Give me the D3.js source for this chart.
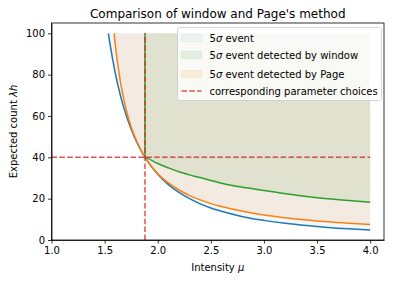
<!DOCTYPE html>
<html>
<head>
<meta charset="utf-8">
<script src="https://cdn.jsdelivr.net/npm/d3@7/dist/d3.min.js"></script>
<style>
	body { margin: 0; background: #fff; }
	svg { display: block; font-family: "DejaVu Sans", sans-serif; }
	.axis path, .axis line { stroke: #000; stroke-width: 0.8; }
	.axis text { font-size: 10px; fill: #000; font-family: "DejaVu Sans", sans-serif; }
</style>
</head>
<body>
<svg class="chart" width="393" height="282"></svg>
<script>
(function() {

	//DATA
	var blueMu = [1.535, 1.55, 1.6, 1.65, 1.7, 1.75, 1.8, 1.88, 1.9, 2.0, 2.1, 2.2, 2.3, 2.4, 2.5, 2.6, 2.8, 3.0, 3.2, 3.4, 3.6, 3.8, 4.0]
	var blueCount = [100, 95.1, 80.8, 69.7, 60.8, 53.6, 47.6, 40.0, 38.4, 31.8, 26.8, 23.0, 20.0, 17.5, 15.5, 13.9, 11.3, 9.5, 8.1, 7.0, 6.1, 5.4, 4.8]

	var pageMu = [1.589, 1.6, 1.65, 1.7, 1.75, 1.8, 1.88, 1.9, 2.0, 2.1, 2.2, 2.3, 2.4, 2.5, 2.6, 2.8, 3.0, 3.2, 3.4, 3.6, 3.8, 4.0]
	var pageCount = [100, 94.5, 76.1, 63.7, 54.7, 48.0, 40.0, 38.5, 32.1, 27.6, 24.2, 21.5, 19.4, 17.6, 16.2, 13.9, 12.1, 10.8, 9.7, 8.8, 8.1, 7.5]

	var windowMu = [1.88, 1.9, 2.0, 2.1, 2.2, 2.3, 2.4, 2.5, 2.6, 2.8, 3.0, 3.2, 3.4, 3.6, 3.8, 4.0]
	var windowCount = [40.0, 39.6, 37.0, 34.9, 33.0, 31.5, 30.2, 28.8, 27.5, 25.5, 24.0, 22.4, 21.1, 20.0, 19.1, 18.3]

	var choiceMu = 1.88
	var choiceCount = 40
	var countMax = 100
	var muRange = [1.0, 4.0]

	var xTicks = [1.0, 1.5, 2.0, 2.5, 3.0, 3.5, 4.0]
	var yTicks = [0, 20, 40, 60, 80, 100]

	var legendLabels = ['5σ event', '5σ event detected by window', '5σ event detected by Page', 'corresponding parameter choices']

	//VARS
	var colors = { blue: '#1f77b4', orange: '#ff7f0e', green: '#2ca02c', red: '#d62728' }
	var fillAlpha = { blue: 0.06, green: 0.1, orange: 0.1 }
	var plot = { left: 51.5, right: 384, top: 23, bottom: 240 }
	var svg = d3.select('.chart')

	var x = d3.scaleLinear().domain([1.0, 4.13]).range([plot.left, plot.right])
	var y = d3.scaleLinear().domain([0, 105]).range([plot.bottom, plot.top])

	function zip(mu, count) {
		return mu.map(function(m, i) { return { mu: m, count: count[i] } })
	}

	var blueData = zip(blueMu, blueCount)
	var pageData = zip(pageMu, pageCount)
	var windowData = zip(windowMu, windowCount)

	var area = d3.area()
		.x(function(d) { return x(d.mu) })
		.y0(y(countMax))
		.y1(function(d) { return y(d.count) })
		.curve(d3.curveMonotoneX)

	var line = d3.line()
		.x(function(d) { return x(d.mu) })
		.y(function(d) { return y(d.count) })
		.curve(d3.curveMonotoneX)

	var g = svg.append('g')

	// fills
	;[[blueData, 'blue'], [windowData, 'green'], [pageData, 'orange']].forEach(function(s) {
		g.append('path')
			.attr('d', area(s[0]))
			.attr('fill', colors[s[1]])
			.attr('fill-opacity', fillAlpha[s[1]])
	})

	// curves
	g.append('path').attr('d', line(blueData))
		.attr('fill', 'none').attr('stroke', colors.blue).attr('stroke-width', 1.5)
	g.append('path').attr('d', line(pageData))
		.attr('fill', 'none').attr('stroke', colors.orange).attr('stroke-width', 1.5)
	g.append('line')
		.attr('x1', x(windowMu[0])).attr('x2', x(windowMu[0]))
		.attr('y1', y(countMax)).attr('y2', y(windowCount[0]))
		.attr('stroke', colors.green).attr('stroke-width', 1.5)
	g.append('path').attr('d', line(windowData))
		.attr('fill', 'none').attr('stroke', colors.green).attr('stroke-width', 1.5)

	// parameter choices
	function dashed(sel) {
		sel.attr('stroke', colors.red).attr('stroke-opacity', 0.8)
			.attr('stroke-width', 1.5).attr('stroke-dasharray', '5.5,2.4')
	}
	g.append('line')
		.attr('x1', x(muRange[0])).attr('x2', x(muRange[1]))
		.attr('y1', y(choiceCount)).attr('y2', y(choiceCount))
		.call(dashed)
	g.append('line')
		.attr('x1', x(choiceMu)).attr('x2', x(choiceMu))
		.attr('y1', y(0)).attr('y2', y(countMax))
		.call(dashed)

	// axes
	svg.append('g')
		.attr('class', 'axis')
		.attr('transform', 'translate(0,' + plot.bottom + ')')
		.call(d3.axisBottom(x).tickValues(xTicks).tickFormat(d3.format('.1f')).tickSizeInner(3.5).tickSizeOuter(0).tickPadding(3))
	svg.append('g')
		.attr('class', 'axis')
		.attr('transform', 'translate(' + plot.left + ',0)')
		.call(d3.axisLeft(y).tickValues(yTicks).tickSizeInner(3.5).tickSizeOuter(0).tickPadding(3))

	svg.append('rect')
		.attr('x', plot.left).attr('y', plot.top)
		.attr('width', plot.right - plot.left).attr('height', plot.bottom - plot.top)
		.attr('fill', 'none').attr('stroke', '#000').attr('stroke-width', 0.8)

	// labels
	svg.append('text')
		.attr('x', (plot.left + plot.right) / 2).attr('y', 18)
		.attr('text-anchor', 'middle').attr('font-size', 12)
		.text("Comparison of window and Page's method")

	var xl = svg.append('text')
		.attr('x', (plot.left + plot.right) / 2).attr('y', 271)
		.attr('text-anchor', 'middle').attr('font-size', 10)
	xl.append('tspan').text('Intensity ')
	xl.append('tspan').attr('font-style', 'italic').text('μ')

	var yl = svg.append('text')
		.attr('transform', 'translate(17,' + ((plot.top + plot.bottom) / 2) + ')rotate(-90)')
		.attr('text-anchor', 'middle').attr('font-size', 10)
	yl.append('tspan').text('Expected count ')
	yl.append('tspan').attr('font-style', 'italic').text('λh')

	// legend
	var legend = svg.append('g').attr('transform', 'translate(177.5,27.5)')
	legend.append('rect')
		.attr('width', 204).attr('height', 73).attr('rx', 2)
		.attr('fill', '#fff').attr('fill-opacity', 0.8)
		.attr('stroke', '#ccc').attr('stroke-opacity', 0.8).attr('stroke-width', 1)

	var rowY = [10.5, 27.5, 46.5, 63.5]
	var swatchKeys = ['blue', 'green', 'orange']
	legendLabels.forEach(function(label, i) {
		if (i < 3) {
			var k = swatchKeys[i]
			legend.append('rect')
				.attr('x', 4).attr('y', rowY[i] - 3.5).attr('width', 20).attr('height', 7)
				.attr('fill', colors[k]).attr('fill-opacity', fillAlpha[k])
				.attr('stroke', colors[k]).attr('stroke-opacity', fillAlpha[k])
		} else {
			legend.append('line')
				.attr('x1', 4).attr('x2', 24).attr('y1', rowY[i]).attr('y2', rowY[i])
				.call(dashed)
		}
		var t = legend.append('text')
			.attr('x', 32).attr('y', rowY[i] + 3.6).attr('font-size', 10)
		if (i < 3) {
			t.append('tspan').text('5')
			t.append('tspan').attr('font-style', 'italic').text('σ')
			t.append('tspan').text(label.slice(2))
		} else {
			t.text(label)
		}
	})

})()
</script>
</body>
</html>
